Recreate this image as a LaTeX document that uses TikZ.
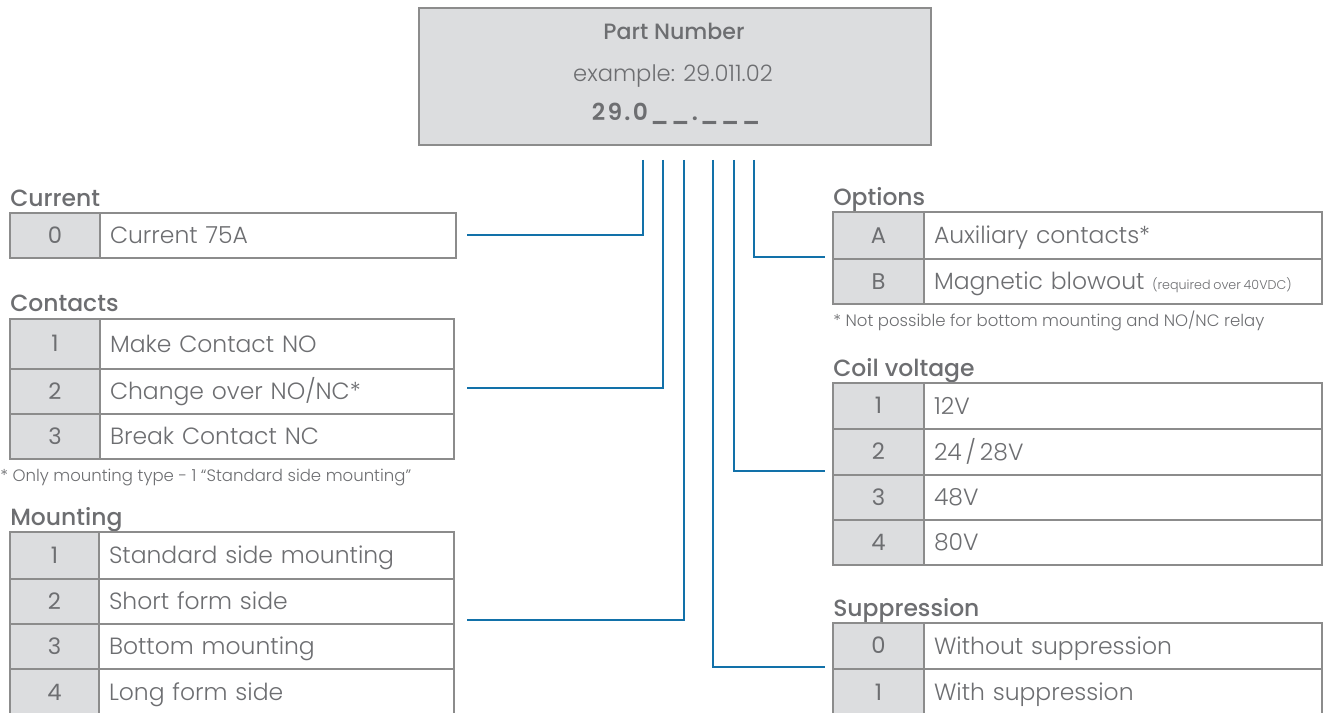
\documentclass[tikz,border=0pt]{standalone}
\usepackage{fontspec}
\newfontfamily\fbody{Poppins Light}
\newfontfamily\fnum{Poppins}
\newfontfamily\fmed{Poppins Medium}
\newfontfamily\fbold{Poppins SemiBold}[LetterSpace=10]
\definecolor{txt}{HTML}{6D6E71}
\definecolor{cellg}{HTML}{DCDDDF}
\definecolor{lineg}{HTML}{8C8C8C}
\definecolor{conn}{HTML}{1271A9}
\tikzset{
  cell/.style={draw=lineg, line width=1.1pt, inner ysep=0pt, outer sep=0pt, anchor=north west, text=txt},
  numcell/.style={cell, fill=cellg, align=center, inner xsep=0pt, text height=11.9pt, text depth=0pt, font=\fnum\fontsize{17pt}{19pt}\selectfont},
  desccell/.style={cell, fill=white, align=left, inner xsep=7.5pt, text height=12.3pt, text depth=0pt, font=\fbody\fontsize{17.6pt}{19pt}\selectfont},
  ttl/.style={anchor=base west, inner sep=0pt, text=txt, font=\fmed\fontsize{17.6pt}{19pt}\selectfont},
  fnote/.style={anchor=base west, inner sep=0pt, text=txt, font=\fbody\fontsize{12.4pt}{14pt}\selectfont},
  wire/.style={draw=conn, line width=1.9pt},
}
\newcommand\trow[8]{%
  \pgfmathsetmacro\cwA{(#3-#2)*0.75}%
  \pgfmathsetmacro\cwB{(#4-#3)*0.75}%
  \pgfmathsetmacro\cwT{(#4-#3-20)*0.75}%
  \pgfmathsetmacro\chH{(#6-#5)*0.75}%
  \node[numcell, minimum width=\cwA pt, text width=\cwA pt, minimum height=\chH pt] (#1n) at (#2,#5) {#7};
  \node[desccell, minimum width=\cwB pt, text width=\cwT pt, minimum height=\chH pt] (#1t) at (#3,#5) {#8};
}
\begin{document}
\begin{tikzpicture}[x=0.75pt,y=-0.75pt]
\useasboundingbox (0,0) rectangle (1330,713);
% part number box
\node[draw=lineg, fill=cellg, line width=1.3pt, anchor=north west, minimum width=384pt, minimum height=102.75pt, inner sep=0pt] (pn) at (418,7) {};
\node[anchor=base, inner sep=0pt, text=txt, font=\fmed\fontsize{16.6pt}{18pt}\selectfont] (pnt) at (674,40) {Part Number};
\node[anchor=base, inner sep=0pt, text=txt, font=\fbody\fontsize{17pt}{19pt}\selectfont] (pne) at (673,82) {example: 29.011.02};
\node[anchor=base, inner sep=0pt, text=txt, font=\fbold\fontsize{17.5pt}{19pt}\selectfont] (pnc) at (676,121) {29.0\_\_.\_\_\_};

% Current
\node[ttl] (tcur) at (10,206) {Current};
\trow{cur1}{10}{100}{456}{213}{258}{0}{Current 75A}
% Contacts
\node[ttl] (tcon) at (10,311) {Contacts};
\trow{con1}{10}{100}{454}{319}{369}{1}{Make Contact NO}
\trow{con2}{10}{100}{454}{369}{414}{2}{Change over NO/NC*}
\trow{con3}{10}{100}{454}{414}{459}{3}{Break Contact NC}
\node[fnote] (fcon) at (0,481) {* Only mounting type - 1 “Standard side mounting”};
% Mounting
\node[ttl] (tmou) at (10,525) {Mounting};
\trow{mou1}{10}{99}{454}{532}{579}{1}{Standard side mounting}
\trow{mou2}{10}{99}{454}{579}{624}{2}{Short form side}
\trow{mou3}{10}{99}{454}{624}{669}{3}{Bottom mounting}
\trow{mou4}{10}{99}{454}{669}{716}{4}{Long form side}
% Options
\node[ttl] (topt) at (833,205) {Options};
\trow{opt1}{833}{924}{1322}{212}{259}{A}{Auxiliary contacts*}
\trow{opt2}{833}{924}{1322}{259}{304}{B}{Magnetic blowout {\fontsize{9.5pt}{10pt}\selectfont\spaceskip=0.22em(required over 40VDC)}}
\node[fnote] (fopt) at (833,326) {* Not possible for bottom mounting and NO/NC relay};
% Coil voltage
\node[ttl] (tcoil) at (833,376) {Coil voltage};
\trow{coi1}{833}{924}{1322}{383}{429}{1}{12V}
\trow{coi2}{833}{924}{1322}{429}{475}{2}{24\,/\,28V}
\trow{coi3}{833}{924}{1322}{475}{520}{3}{48V}
\trow{coi4}{833}{924}{1322}{520}{565}{4}{80V}
% Suppression
\node[ttl] (tsup) at (833,616) {Suppression};
\trow{sup1}{833}{924}{1322}{623}{669}{0}{Without suppression}
\trow{sup2}{833}{924}{1322}{669}{716}{1}{With suppression}

% connectors
\coordinate (s1) at (643,160); \coordinate (e1) at (467,235);
\coordinate (s2) at (663,160); \coordinate (e2) at (467,388);
\coordinate (s3) at (684,160); \coordinate (e3) at (467,620);
\coordinate (s4) at (713,160); \coordinate (e4) at (825,667);
\coordinate (s5) at (734,160); \coordinate (e5) at (825,471);
\coordinate (s6) at (754,160); \coordinate (e6) at (825,257);
\draw[wire] (s1) |- (e1);
\draw[wire] (s2) |- (e2);
\draw[wire] (s3) |- (e3);
\draw[wire] (s4) |- (e4);
\draw[wire] (s5) |- (e5);
\draw[wire] (s6) |- (e6);
\end{tikzpicture}
\end{document}
